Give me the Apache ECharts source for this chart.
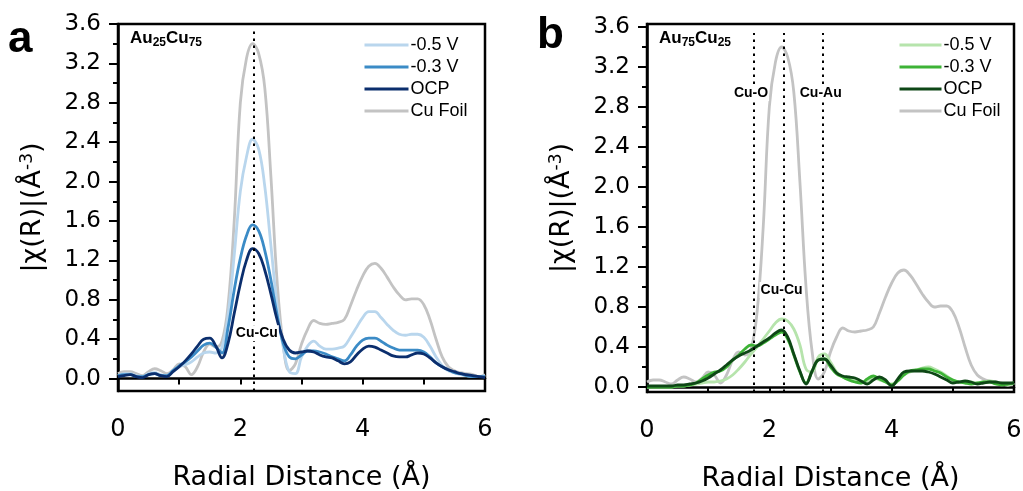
<!DOCTYPE html>
<html>
<head>
<meta charset="utf-8">
<script src="https://cdn.jsdelivr.net/npm/echarts@6/dist/echarts.min.js"></script>
<style>
  html, body { margin: 0; padding: 0; background: #fff; }
  #chart { width: 1023px; height: 491px; }
</style>
</head>
<body>
<div id="chart"></div>
<script>
// radial distance grid (Å)
const radius = [
    0.0, 0.1, 0.2, 0.3, 0.4, 0.5, 0.6, 0.7, 0.8, 0.9,
    1.0, 1.1, 1.2, 1.3, 1.4, 1.5, 1.6, 1.7, 1.8, 1.9,
    2.0, 2.1, 2.2, 2.3, 2.4, 2.5, 2.6, 2.7, 2.8, 2.9,
    3.0, 3.1, 3.2, 3.3, 3.4, 3.5, 3.6, 3.7, 3.8, 3.9,
    4.0, 4.1, 4.2, 4.3, 4.4, 4.5, 4.6, 4.7, 4.8, 4.9,
    5.0, 5.1, 5.2, 5.3, 5.4, 5.5, 5.6, 5.7, 5.8, 5.9, 6.0
];

// Cu foil reference (same in both panels)
const cuFoil = [
    0.05, 0.07, 0.07, 0.05, 0.03, 0.07, 0.10, 0.08, 0.05, 0.09,
    0.15, 0.12, 0.04, 0.12, 0.27, 0.35, 0.32, 0.38, 0.75, 1.60,
    2.80, 3.25, 3.40, 3.30, 2.95, 2.05, 1.00, 0.35, 0.08, 0.15,
    0.35, 0.50, 0.59, 0.56, 0.55, 0.56, 0.57, 0.60, 0.74, 0.90,
    1.04, 1.14, 1.17, 1.12, 1.03, 0.93, 0.85, 0.80, 0.81, 0.81,
    0.75, 0.60, 0.40, 0.22, 0.12, 0.08, 0.06, 0.05, 0.04, 0.02, 0.04
];

// panel a: Au25Cu75
const a_m05 = [
    0.03, 0.05, 0.05, 0.03, 0.02, 0.05, 0.06, 0.04, 0.03, 0.08,
    0.12, 0.14, 0.17, 0.22, 0.26, 0.27, 0.26, 0.32, 0.65, 1.25,
    1.90, 2.25, 2.43, 2.33, 1.95, 1.35, 0.75, 0.32, 0.07, 0.05,
    0.22, 0.33, 0.38, 0.33, 0.30, 0.30, 0.31, 0.33, 0.42, 0.52,
    0.62, 0.68, 0.68, 0.62, 0.55, 0.49, 0.45, 0.44, 0.45, 0.45,
    0.42, 0.33, 0.22, 0.13, 0.08, 0.06, 0.04, 0.03, 0.02, 0.02, 0.03
];
const a_m03 = [
    0.03, 0.04, 0.04, 0.02, 0.02, 0.04, 0.05, 0.03, 0.03, 0.08,
    0.13, 0.17, 0.22, 0.28, 0.34, 0.36, 0.32, 0.26, 0.52, 0.90,
    1.22, 1.45, 1.56, 1.50, 1.30, 1.00, 0.65, 0.36, 0.22, 0.20,
    0.24, 0.28, 0.28, 0.27, 0.25, 0.22, 0.20, 0.18, 0.24, 0.33,
    0.39, 0.41, 0.41, 0.38, 0.34, 0.31, 0.29, 0.29, 0.29, 0.29,
    0.27, 0.22, 0.16, 0.12, 0.09, 0.06, 0.05, 0.03, 0.02, 0.02, 0.02
];
const a_ocp = [
    0.02, 0.03, 0.04, 0.02, 0.01, 0.04, 0.05, 0.03, 0.02, 0.07,
    0.12, 0.18, 0.25, 0.33, 0.40, 0.41, 0.33, 0.21, 0.36, 0.66,
    0.96, 1.20, 1.32, 1.27, 1.10, 0.86, 0.60, 0.40, 0.29, 0.26,
    0.27, 0.28, 0.27, 0.24, 0.22, 0.21, 0.18, 0.15, 0.17, 0.24,
    0.30, 0.33, 0.32, 0.29, 0.26, 0.23, 0.22, 0.22, 0.24, 0.26,
    0.25, 0.21, 0.16, 0.12, 0.09, 0.07, 0.05, 0.04, 0.03, 0.02, 0.01
];

// panel b: Au75Cu25
const b_m05 = [
    0.00, 0.00, 0.00, 0.00, 0.00, 0.01, 0.01, 0.02, 0.03, 0.04,
    0.05, 0.05, 0.06, 0.08, 0.12, 0.18, 0.25, 0.33, 0.40, 0.48,
    0.56, 0.64, 0.68, 0.66, 0.58, 0.42, 0.18, 0.15, 0.30, 0.33,
    0.25, 0.15, 0.10, 0.08, 0.07, 0.04, 0.05, 0.09, 0.07, 0.05,
    0.03, 0.07, 0.12, 0.15, 0.17, 0.19, 0.20, 0.18, 0.15, 0.11,
    0.07, 0.05, 0.05, 0.05, 0.04, 0.05, 0.06, 0.05, 0.03, 0.02, 0.04
];
const b_m03 = [
    0.00, 0.00, 0.00, 0.00, 0.00, 0.01, 0.01, 0.02, 0.04, 0.08,
    0.12, 0.15, 0.16, 0.20, 0.27, 0.32, 0.38, 0.42, 0.41, 0.44,
    0.48, 0.52, 0.55, 0.48, 0.32, 0.15, 0.04, 0.16, 0.27, 0.28,
    0.20, 0.13, 0.10, 0.07, 0.05, 0.04, 0.08, 0.11, 0.08, 0.05,
    0.02, 0.06, 0.12, 0.16, 0.17, 0.18, 0.18, 0.16, 0.14, 0.10,
    0.07, 0.05, 0.04, 0.03, 0.04, 0.05, 0.05, 0.03, 0.02, 0.03, 0.04
];
const b_ocp = [
    0.01, 0.01, 0.01, 0.01, 0.01, 0.02, 0.02, 0.03, 0.04, 0.06,
    0.09, 0.13, 0.17, 0.22, 0.27, 0.31, 0.34, 0.37, 0.41, 0.45,
    0.49, 0.54, 0.57, 0.50, 0.33, 0.16, 0.03, 0.16, 0.27, 0.28,
    0.22, 0.14, 0.11, 0.10, 0.09, 0.06, 0.03, 0.07, 0.10, 0.07,
    0.01, 0.08, 0.15, 0.16, 0.16, 0.16, 0.15, 0.13, 0.10, 0.07,
    0.04, 0.05, 0.06, 0.05, 0.03, 0.04, 0.05, 0.05, 0.04, 0.04, 0.04
];

const legendNames = ['-0.5 V', '-0.3 V', 'OCP', 'Cu Foil'];
const yMajor = [0, 0.4, 0.8, 1.2, 1.6, 2.0, 2.4, 2.8, 3.2, 3.6];
const yMinor = [0.2, 0.6, 1.0, 1.4, 1.8, 2.2, 2.6, 3.0, 3.4];

const colorsA = ['#b9d6ed', '#3b8bc6', '#0b2e6d', '#c3c3c3'];
const colorsB = ['#b6e4ac', '#3db336', '#0e4716', '#c3c3c3'];

const FONT = 'DejaVu Sans';
const ARIAL = 'Liberation Sans';

function pairs(vals) {
    return radius.map((r, i) => [r, vals[i]]);
}

function xAxisFor(gi) {
    return {
        type: 'value', gridIndex: gi, min: 0, max: 6, interval: 1,
        name: 'Radial Distance (Å)', nameLocation: 'middle', nameGap: 73,
        nameTextStyle: { fontFamily: FONT, fontSize: 27, color: '#000' },
        axisLine: { show: true, lineStyle: { color: '#000', width: 2.5 } },
        axisTick: { show: true, length: 6, lineStyle: { color: '#000', width: 2 } },
        axisLabel: {
            fontFamily: FONT, fontSize: 24, color: '#000', margin: 27,
            formatter: v => (v % 2 === 0 ? String(v) : '')
        },
        splitLine: { show: false }
    };
}

function yAxisFor(gi, min, max) {
    return {
        type: 'value', gridIndex: gi, min: min, max: max,
        name: '|χ(R)|(Å{s|-3})', nameLocation: 'middle', nameGap: 72,
        nameTextStyle: {
            fontFamily: FONT, fontSize: 27, color: '#000',
            rich: { s: { fontFamily: FONT, fontSize: 17, color: '#000', verticalAlign: 'top', lineHeight: 14 } }
        },
        axisLine: { show: true, lineStyle: { color: '#000', width: 2.5 } },
        axisTick: { show: true, length: 9, customValues: yMajor, lineStyle: { color: '#000', width: 2 } },
        axisLabel: {
            fontFamily: FONT, fontSize: 23, color: '#000', margin: 17,
            customValues: yMajor, formatter: v => v.toFixed(1)
        },
        splitLine: { show: false }
    };
}

function minorAxisFor(gi, min, max) {
    return {
        type: 'value', gridIndex: gi, min: min, max: max, position: 'left',
        axisLine: { show: false },
        axisTick: { show: true, length: 5, customValues: yMinor, lineStyle: { color: '#000', width: 2 } },
        axisLabel: { show: false },
        splitLine: { show: false }
    };
}

function lineSeries(name, vals, color, gi, yi) {
    return {
        name: name, type: 'line', xAxisIndex: gi, yAxisIndex: yi,
        data: pairs(vals), smooth: 0.4, symbol: 'none',
        lineStyle: { color: color, width: 2.8 }, itemStyle: { color: color }
    };
}

const dotted = { type: [2.5, 4.5], width: 2, color: '#000' };
const markText = {
    show: true, position: 'inside', formatter: p => p.name,
    fontFamily: ARIAL, fontWeight: 'bold', fontSize: 14, color: '#000',
    backgroundColor: '#fff', padding: [1, 1]
};

function vLine(x) {
    return [{ coord: [x, -0.05] }, { coord: [x, 3.54] }];
}

// panel a series
const seriesA = [
    lineSeries('a|Cu Foil', cuFoil, colorsA[3], 0, 0),
    lineSeries('a|-0.5 V', a_m05, colorsA[0], 0, 0),
    lineSeries('a|-0.3 V', a_m03, colorsA[1], 0, 0),
    lineSeries('a|OCP', a_ocp, colorsA[2], 0, 0)
];
seriesA[3].markLine = {
    silent: true, symbol: 'none', label: { show: false },
    lineStyle: dotted, data: [[{ coord: [2.22, -0.126] }, { coord: [2.22, 3.54] }]]
};
seriesA[3].markPoint = {
    symbol: 'rect', symbolSize: 0, label: markText,
    data: [{ name: 'Cu-Cu', coord: [2.27, 0.46] }]
};

// panel b series
const seriesB = [
    lineSeries('b|Cu Foil', cuFoil, colorsB[3], 1, 2),
    lineSeries('b|-0.5 V', b_m05, colorsB[0], 1, 2),
    lineSeries('b|-0.3 V', b_m03, colorsB[1], 1, 2),
    lineSeries('b|OCP', b_ocp, colorsB[2], 1, 2)
];
seriesB[3].markLine = {
    silent: true, symbol: 'none', label: { show: false },
    lineStyle: dotted, data: [vLine(1.75), vLine(2.23), vLine(2.87)]
};
seriesB[3].markPoint = {
    symbol: 'rect', symbolSize: 0, label: markText,
    data: [
        { name: 'Cu-Cu', coord: [2.2, 0.97] },
        { name: 'Cu-O', coord: [1.70, 2.94] },
        { name: 'Cu-Au', coord: [2.84, 2.94] }
    ]
};

function legendFor(prefix, left, width) {
    return {
        orient: 'vertical', left: left, top: 30,
        itemWidth: width, itemHeight: 12, itemGap: 2,
        data: legendNames.map(n => prefix + '|' + n),
        formatter: n => n.split('|')[1],
        itemStyle: { opacity: 0 },
        lineStyle: { width: 3 },
        textStyle: { fontFamily: ARIAL, fontSize: 18, color: '#000', lineHeight: 20, padding: [0, 0, 0, -3] },
        selectedMode: false
    };
}

function subLabel(left, t1, t2) {
    return {
        type: 'text', left: left, top: 30,
        style: {
            text: '{m|Au}{s|' + t1 + '}{m|Cu}{s|' + t2 + '}',
            rich: {
                m: { fontFamily: ARIAL, fontWeight: 'bold', fontSize: 17, lineHeight: 20, fill: '#000' },
                s: { fontFamily: ARIAL, fontWeight: 'bold', fontSize: 12, lineHeight: 10, verticalAlign: 'bottom', fill: '#000' }
            }
        }
    };
}

const chart = echarts.init(document.getElementById('chart'), null, { renderer: 'canvas' });

chart.setOption({
    animation: false,
    backgroundColor: '#fff',
    grid: [
        { left: 118, top: 24, width: 367, height: 367, outerBoundsMode: 'none', show: true, borderColor: '#000', borderWidth: 2.5 },
        { left: 647, top: 24, width: 367, height: 368, outerBoundsMode: 'none', show: true, borderColor: '#000', borderWidth: 2.5 }
    ],
    xAxis: [xAxisFor(0), xAxisFor(1)],
    yAxis: [
        yAxisFor(0, -0.126, 3.6),
        minorAxisFor(0, -0.126, 3.6),
        yAxisFor(1, -0.05, 3.63),
        minorAxisFor(1, -0.05, 3.63)
    ],
    legend: [legendFor('a', 358, 44), legendFor('b', 893, 42)],
    graphic: [
        { type: 'text', left: 8, top: 18, style: { text: 'a', fontFamily: ARIAL, fontWeight: 'bold', fontSize: 44, fill: '#000' } },
        { type: 'text', left: 537, top: 14, style: { text: 'b', fontFamily: ARIAL, fontWeight: 'bold', fontSize: 44, fill: '#000' } },
        subLabel(130, '25', '75'),
        subLabel(659, '75', '25')
    ],
    series: [...seriesA, ...seriesB]
});
</script>
</body>
</html>
